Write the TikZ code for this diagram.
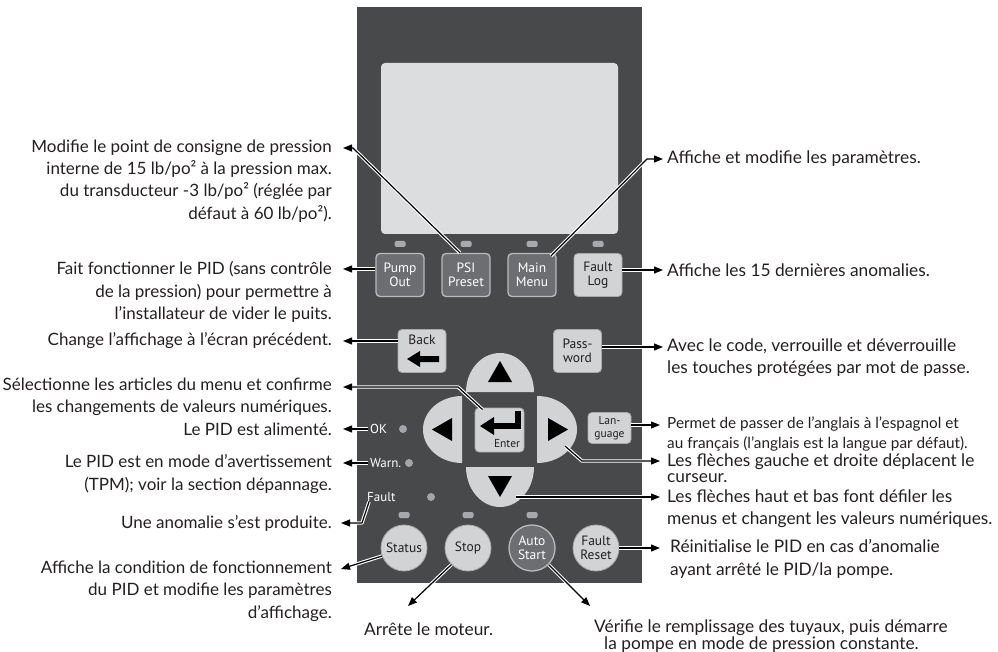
\documentclass[tikz,border=0pt]{standalone}
\usepackage{fontspec}
\setmainfont{Lato}
\newfontfamily\keyfont{PT Sans}
\usetikzlibrary{arrows.meta}
\definecolor{panelc}{HTML}{48494B}
\definecolor{screenc}{HTML}{DCDDDF}
\definecolor{keyc}{HTML}{D1D3D4}
\definecolor{keyedge}{HTML}{A7A9AC}
\definecolor{darkc}{HTML}{6D6E71}
\definecolor{darkedge}{HTML}{B8BABC}
\definecolor{ledc}{HTML}{A7A9AC}
\definecolor{dotc}{HTML}{A3A5A8}
\definecolor{txt}{HTML}{231F20}
\newcommand\wireto[1]{\draw[halo, shorten >=6pt] #1; \draw[wire] #1;}
\begin{document}
\begin{tikzpicture}[x=1pt,y=-1pt,
  keytext/.style={font=\keyfont\fontsize{13.5}{14.5}\selectfont, align=center, inner sep=0pt},
  lkey/.style={keytext, draw=keyedge, line width=0.8pt, fill=keyc, text=txt, rounded corners=4pt},
  dkey/.style={keytext, draw=darkedge, line width=1.3pt, fill=darkc, text=white, rounded corners=4pt},
  sqkey/.style={minimum width=48pt, minimum height=43pt},
  rkey/.style={circle, minimum size=46pt},
  led/.style={fill=ledc, rounded corners=1.5pt, minimum width=11pt, minimum height=6pt, inner sep=0pt},
  dot/.style={circle, fill=dotc, minimum size=8pt, inner sep=0pt},
  ltxt/.style={anchor=east, align=right, inner sep=0pt, text=txt, font=\fontsize{17}{22.3}\selectfont},
  rtxt/.style={anchor=west, align=left, inner sep=0pt, text=txt, font=\fontsize{17.3}{22.3}\selectfont},
  paneltxt/.style={text=white, inner sep=0pt, font=\keyfont\fontsize{13}{14}\selectfont},
  halo/.style={draw=white, line width=3.4pt, line join=round},
  wire/.style={draw=black, line width=1.2pt, line join=round, -{Triangle[length=9pt,width=7pt]}}
]
\useasboundingbox (0,0) rectangle (998,652);

% panel and screen
\path[fill=panelc] (357,7) rectangle (642,583);
\path[fill=screenc, rounded corners=4pt] (381,63) rectangle (618,234);

% top LEDs
\foreach \x in {400,466,532,598} \node[led] (ledt\x) at (\x,244) {};

% top keys
\node[dkey, sqkey] (pump) at (400,275) {Pump\\Out};
\node[dkey, sqkey] (psi) at (466,275) {PSI\\Preset};
\node[dkey, sqkey] (menu) at (532,275) {Main\\Menu};
\node[lkey, sqkey] (flog) at (598,275) {Fault\\Log};

% back and password
\node[lkey, sqkey] (back) at (422,351) {};
\node[keytext, text=txt] (backlbl) at (422,340) {Back};
\fill[black] (439,356) -- (420,356) -- (420,351) -- (407,359) -- (420,367) -- (420,362) -- (439,362) -- cycle;
\node[lkey, sqkey] (pass) at (577.5,351) {Pass-\\word};

% arrow keys
\fill[keyc] (466,392) arc[start angle=180, end angle=0, x radius=34pt, y radius=39pt] -- cycle;
\fill[keyc] (462,463) arc[start angle=270, end angle=90, x radius=39pt, y radius=33.5pt] -- cycle;
\fill[keyc] (537,396) arc[start angle=90, end angle=-90, x radius=40pt, y radius=33.5pt] -- cycle;
\fill[keyc] (534,467) arc[start angle=0, end angle=-180, x radius=34pt, y radius=40pt] -- cycle;
\fill[black] (488,382) -- (512,382) -- (500,361) -- cycle;
\fill[black] (452,418) -- (452,441) -- (432,429.5) -- cycle;
\fill[black] (548,418) -- (548,441) -- (568,429.5) -- cycle;
\fill[black] (488,476) -- (512,476) -- (500,497) -- cycle;

% enter key
\node[lkey, minimum width=49pt, minimum height=44pt] (enter) at (499.5,430) {};
\fill[black] (515,411) rectangle (521,429);
\fill[black] (492,423) rectangle (521,429);
\fill[black] (480,426) -- (494,417) -- (494,435) -- cycle;
\node[keytext, text=txt, font=\keyfont\fontsize{11.5}{12}\selectfont] (enterlbl) at (507,444) {Enter};

% language
\node[lkey, minimum width=43pt, minimum height=31pt, font=\keyfont\fontsize{11.5}{12.5}\selectfont] (lang) at (609.5,428) {Lan-\\guage};

% status lamps
\node[dot] (dok) at (403,429) {};
\node[dot] (dwarn) at (409,463) {};
\node[dot] (dfault) at (431,497) {};
\node[paneltxt, anchor=west] (lok) at (370,429) {OK};
\node[paneltxt, anchor=west] (lwarn) at (370,463) {Warn.};
\node[paneltxt, anchor=west] (lfault) at (367,497) {Fault};

% bottom LEDs and round keys
\foreach \x in {404,468,532} \node[led] (ledb\x) at (\x,515) {};
\node[lkey, rkey] (status) at (404,548) {Status};
\node[lkey, rkey] (stop) at (468,548) {Stop};
\node[dkey, rkey] (auto) at (532,548) {Auto\\Start};
\node[lkey, rkey] (freset) at (596,548) {Fault\\Reset};

% left texts
\node[ltxt] (tA) at (332,181) {Modifie le point de consigne de pression\\interne de 15 lb/po² à la pression max.\\du transducteur -3 lb/po² (réglée par\\défaut à 60 lb/po²).};
\node[ltxt] (tB) at (332,292) {Fait fonctionner le PID (sans contrôle\\de la pression) pour permettre à\\l’installateur de vider le puits.};
\node[ltxt] (tC) at (332,341) {Change l’affichage à l’écran précédent.};
\node[ltxt] (tD) at (332,397) {Sélectionne les articles du menu et confirme\\les changements de valeurs numériques.};
\node[ltxt] (tE) at (332,429) {Le PID est alimenté.};
\node[ltxt] (tF) at (332,474) {Le PID est en mode d’avertissement\\(TPM); voir la section dépannage.};
\node[ltxt] (tG) at (332,523) {Une anomalie s’est produite.};
\node[ltxt] (tH) at (332,591) {Affiche la condition de fonctionnement\\du PID et modifie les paramètres\\d’affichage.};

% right texts
\node[rtxt] (r1) at (667,159) {Affiche et modifie les paramètres.};
\node[rtxt] (r2) at (667,270) {Affiche les 15 dernières anomalies.};
\node[rtxt] (r3) at (667,358) {Avec le code, verrouille et déverrouille\\les touches protégées par mot de passe.};
\node[rtxt, font=\fontsize{15.3}{20}\selectfont] (r4) at (667,434) {Permet de passer de l’anglais à l’espagnol et\\au français (l’anglais est la langue par défaut).};
\node[rtxt] (r5) at (667,468) {Les flèches gauche et droite déplacent le\\[-6pt]curseur.};
\node[rtxt] (r6) at (667,509) {Les flèches haut et bas font défiler les\\menus et changent les valeurs numériques.};
\node[rtxt] (r7) at (670,559) {Réinitialise le PID en cas d’anomalie\\ayant arrêté le PID/la pompe.};
\node[rtxt] (b1) at (364,629) {Arrête le moteur.};
\node[rtxt] (b2) at (594,628) {Vérifie le remplissage des tuyaux, puis démarre};
\node[rtxt] (b3) at (604,645) {la pompe en mode de pression constante.};

% leader points
\coordinate (kA) at (353,148); \coordinate (aA) at (343,148);
\coordinate (kM) at (647,159); \coordinate (aM) at (663,159);
\coordinate (aFL) at (663,270);
\coordinate (aP) at (343,269);
\coordinate (aB) at (343,341);
\coordinate (aPW) at (663,347);
\coordinate (kE) at (458,387); \coordinate (aE) at (343,387);
\coordinate (aOK) at (343,429);
\coordinate (aW) at (343,463);
\coordinate (kF) at (362,523); \coordinate (aF) at (341,523);
\coordinate (aS) at (341,569);
\coordinate (aStop) at (408,606);
\coordinate (aAuto) at (590,606);
\coordinate (aFR) at (660,548);
\coordinate (aL) at (660,425);
\coordinate (rk) at (565,446); \coordinate (kR) at (582,461); \coordinate (aR) at (660,461);
\coordinate (dk) at (516,497); \coordinate (aD) at (660,497);

% leaders
\wireto{([xshift=-6pt]psi.north) -- (kA) -- (aA)}
\wireto{([xshift=19pt,yshift=-3pt]menu.north) -- (kM) -- (aM)}
\wireto{([yshift=5pt]flog.east) -- (aFL)}
\wireto{([yshift=6pt]pump.west) -- (aP)}
\wireto{([yshift=10pt]back.west) -- (aB)}
\wireto{([yshift=4pt]pass.east) -- (aPW)}
\wireto{([xshift=8pt,yshift=-2pt]enter.north west) -- (kE) -- (aE)}
\wireto{([xshift=-2pt]lok.west) -- (aOK)}
\wireto{([xshift=-2pt]lwarn.west) -- (aW)}
\wireto{([xshift=2pt]lfault.south west) -- (kF) -- (aF)}
\wireto{(status.200) -- (aS)}
\wireto{(stop.225) -- (aStop)}
\wireto{(auto.-45) -- (aAuto)}
\wireto{(freset.east) -- (aFR)}
\wireto{([yshift=3pt]lang.east) -- (aL)}
\wireto{(rk) -- (kR) -- (aR)}
\wireto{(dk) -- (aD)}
\end{tikzpicture}
\end{document}
